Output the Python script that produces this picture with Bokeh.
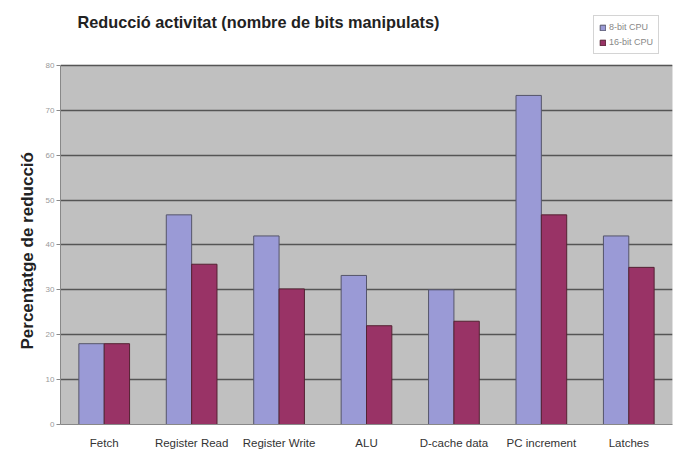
from bokeh.plotting import figure
from bokeh.models import (ColumnDataSource, FactorRange, Range1d, Legend, LegendItem,
                          FixedTicker, BoxAnnotation, Label, Title)
from bokeh.transform import dodge
from bokeh.embed import file_html
from bokeh.resources import INLINE

title_text = "Reducció activitat (nombre de bits manipulats)"
y_label_text = "Percentatge de reducció"
categories = ["Fetch", "Register Read", "Register Write", "ALU", "D-cache data", "PC increment", "Latches"]
cpu8 = [18, 46.7, 42, 33.2, 30, 73.3, 42]
cpu16 = [18, 35.7, 30.2, 22, 23, 46.7, 35]
series_names = ["8-bit CPU", "16-bit CPU"]
y_ticks = [0, 10, 20, 30, 40, 50, 60, 70, 80]

src = ColumnDataSource(dict(cat=categories, a=cpu8, b=cpu16))

ymax = y_ticks[-1]
px_per_unit = 360 / ymax
# frame extends to the top of the canvas so title and legend can be placed inside it
p = figure(width=681, height=451, x_range=FactorRange(*categories), y_range=Range1d(0, 425 / px_per_unit),
           output_backend="svg", toolbar_location=None,
           min_border_left=60, min_border_right=9, min_border_top=0, min_border_bottom=26)
p.background_fill_color = "white"
p.border_fill_color = "white"
p.outline_line_color = None

p.x_range.range_padding = 0
p.x_range.group_padding = 0

area = BoxAnnotation(bottom=0, top=ymax, fill_color="#c0c0c0", fill_alpha=1,
                     line_color="#8a8a8a", line_width=1, level="image")
p.add_layout(area)

r1 = p.vbar(x=dodge("cat", -0.145, range=p.x_range), top="a", width=0.29, source=src,
            fill_color="#9a9ad6", line_color="#55556a", line_width=1)
r2 = p.vbar(x=dodge("cat", 0.145, range=p.x_range), top="b", width=0.29, source=src,
            fill_color="#993366", line_color="#552233", line_width=1)

p.yaxis.ticker = FixedTicker(ticks=y_ticks)
p.yaxis.bounds = (0, ymax)
p.yaxis.major_label_text_font = "Liberation Sans"
p.yaxis.major_label_text_font_size = "8px"
p.yaxis.major_label_text_color = "#999999"
p.yaxis.major_label_standoff = 2
p.yaxis.axis_line_color = "#888888"
p.yaxis.major_tick_line_color = "#888888"
p.yaxis.major_tick_in = 0
p.yaxis.major_tick_out = 4
p.yaxis.minor_tick_line_color = None

p.xaxis.major_label_text_font = "Liberation Sans"
p.xaxis.major_label_text_font_size = "11.5px"
p.xaxis.major_label_text_color = "#333333"
p.xaxis.major_tick_line_color = None
p.xaxis.axis_line_color = "#888888"
p.xaxis.major_label_standoff = 6

p.xgrid.grid_line_color = None
p.ygrid.ticker = FixedTicker(ticks=y_ticks[1:])
p.ygrid.grid_line_color = "#555555"
p.ygrid.grid_line_width = 1.3

title = Label(x=17, y=(425 - 22) / px_per_unit, x_units="screen", y_units="data",
              text=title_text, text_font="Liberation Sans", text_font_style="bold",
              text_font_size="16.3px", text_color="#222222", text_baseline="middle")
p.add_layout(title)

ylab = Title(text=y_label_text, align="left", offset=75, standoff=12,
             text_font="Liberation Sans", text_font_style="bold",
             text_font_size="17px", text_color="#222222")
p.add_layout(ylab, "left")

legend = Legend(items=[LegendItem(label=series_names[0], renderers=[r1]),
                       LegendItem(label=series_names[1], renderers=[r2])],
                location=(533, 370))
legend.label_text_font = "Liberation Sans"
legend.label_text_font_size = "9px"
legend.label_text_color = "#888888"
legend.glyph_width = 7
legend.glyph_height = 7
legend.label_height = 12
legend.spacing = 3
legend.padding = 5
legend.margin = 0
legend.label_standoff = 3
legend.border_line_color = "#aaaaaa"
legend.background_fill_color = "white"
p.add_layout(legend)

open("out.html", "w").write(file_html(p, INLINE))
